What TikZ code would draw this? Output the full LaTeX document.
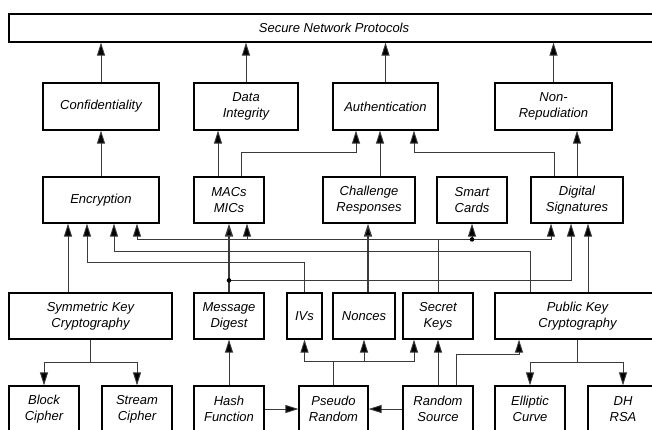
\documentclass[tikz,border=0pt]{standalone}
\usepackage{fontspec}
\setmainfont{Liberation Sans}
\usetikzlibrary{arrows.meta, calc}
\definecolor{lnkgray}{HTML}{3A3A3A}

\begin{document}
\begin{tikzpicture}[x=1pt, y=-1pt,
  unit/.style={draw=black, line width=1.2pt, fill=white, inner sep=0pt, align=center,
    font=\fontsize{13}{16}\selectfont\itshape},
  link/.style={draw=lnkgray, line width=0.9pt, -{Triangle[length=13pt, width=8pt, fill=black]}},
  plain/.style={draw=lnkgray, line width=0.9pt},
  heavy/.style={link, line width=1.4pt},
  joint/.style={fill=black}]

% Background
\useasboundingbox (0,0) rectangle (652,429);
\fill[white] (0,0) rectangle (652,429);

% Top: protocols
\node[unit, minimum width=650pt, minimum height=28pt] (snp) at (334,28) {Secure Network Protocols};

% Services
\node[unit, minimum width=116pt, minimum height=47pt] (conf) at (101,106.5) {Confidentiality};
\node[unit, minimum width=104pt, minimum height=47pt] (dint) at (246,106.5) {Data\\Integrity};
\node[unit, minimum width=105pt, minimum height=47pt] (auth) at (385.5,106.5) {Authentication};
\node[unit, minimum width=117pt, minimum height=47pt] (nrep) at (553.5,106.5) {Non-\\Repudiation};

% Mechanisms
\node[unit, minimum width=116pt, minimum height=46pt] (enc) at (101,200) {Encryption};
\node[unit, minimum width=70pt, minimum height=46pt] (mac) at (229,200) {MACs\\MICs};
\node[unit, minimum width=92pt, minimum height=46pt] (chal) at (369,200) {Challenge\\Responses};
\node[unit, minimum width=70pt, minimum height=46pt] (smart) at (472,200) {Smart\\Cards};
\node[unit, minimum width=92pt, minimum height=46pt] (dsig) at (577,200) {Digital\\Signatures};

% Building blocks
\node[unit, minimum width=163pt, minimum height=46pt] (sym) at (90.5,316) {Symmetric Key\\Cryptography};
\node[unit, minimum width=70pt, minimum height=46pt] (mdig) at (229,316) {Message\\Digest};
\node[unit, minimum width=35pt, minimum height=46pt] (ivs) at (304.5,316) {IVs};
\node[unit, minimum width=62pt, minimum height=46pt] (non) at (364,316) {Nonces};
\node[unit, minimum width=70pt, minimum height=46pt] (skey) at (438,316) {Secret\\Keys};
\node[unit, minimum width=165pt, minimum height=46pt] (pkc) at (577.5,316) {Public Key\\Cryptography};

% Primitives
\node[unit, minimum width=70pt, minimum height=46pt] (blk) at (44,409) {Block\\Cipher};
\node[unit, minimum width=70pt, minimum height=46pt] (strm) at (137,409) {Stream\\Cipher};
\node[unit, minimum width=70pt, minimum height=46pt] (hash) at (229,409) {Hash\\Function};
\node[unit, minimum width=69pt, minimum height=46pt] (prnd) at (333.5,409) {Pseudo\\Random};
\node[unit, minimum width=70pt, minimum height=46pt] (rsrc) at (438,409) {Random\\Source};
\node[unit, minimum width=70pt, minimum height=46pt] (ell) at (530,409) {Elliptic\\Curve};
\node[unit, minimum width=70pt, minimum height=46pt] (dh) at (623,409) {DH\\RSA};

% Services -> protocols
\draw[link] (conf.north) -- (conf.north |- snp.south);
\draw[link] (dint.north) -- (dint.north |- snp.south);
\draw[link] (auth.north) -- (auth.north |- snp.south);
\draw[link] (nrep.north) -- (nrep.north |- snp.south);

% Mechanisms -> services
\draw[link] (enc.north) -- (conf.south);
\draw[link] ([xshift=-11pt]mac.north) -- ([xshift=-11pt]mac.north |- dint.south);
\draw[link] ([xshift=12pt]mac.north) -- ++(0,-24) -| ([xshift=-29.5pt]auth.south);
\draw[link] ([xshift=11pt]chal.north) -- ([xshift=11pt]chal.north |- auth.south);
\draw[link] ([xshift=-23pt]dsig.north) -- ++(0,-24) -| ([xshift=28.5pt]auth.south);
\draw[link] (dsig.north) -- (dsig.north |- nrep.south);

% Building blocks -> mechanisms
\draw[link] ([xshift=-22.5pt]sym.north) -- ([xshift=-22.5pt]sym.north |- enc.south);
\draw[link] (ivs.north) -- ++(0,-30) -| ([xshift=-14pt]enc.south);
\draw[link] ([xshift=-47.5pt]pkc.north) -- ++(0,-41) -| ([xshift=13pt]enc.south);
\draw[plain] (skey.north) -- ++(0,-53) coordinate (skj);
\draw[link] (skj) -| ([xshift=36pt]enc.south);
\draw[link] (skj) -| ([xshift=18pt]mac.south);
\draw[link] (skj) -| ([xshift=-26pt]dsig.south);
\draw[link] (smart.south |- skj) -- (smart.south);
\fill[joint] (smart.south |- skj) circle (2.3pt);
\draw[heavy] (mdig.north) -- (mac.south);
\coordinate (mdj) at ($(mdig.north)+(0,-12)$);
\draw[link] (mdj) -| ([xshift=-6pt]dsig.south);
\fill[joint] (mdj) circle (2.3pt);
\draw[heavy] ([xshift=4pt]non.north) -- ([xshift=4pt]non.north |- chal.south);
\draw[link] ([xshift=10.5pt]pkc.north) -- ([xshift=10.5pt]pkc.north |- dsig.south);

% Primitives -> building blocks
\draw[plain] (sym.south) -- ++(0,23) coordinate (symj);
\draw[link] (symj) -| (blk.north);
\draw[link] (symj) -| (strm.north);
\draw[plain] (pkc.south) -- ++(0,23) coordinate (pkcj);
\draw[link] (pkcj) -| (ell.north);
\draw[link] (pkcj) -| (dh.north);
\draw[link] (hash.north) -- (mdig.south);
\draw[link] (hash.east) -- (prnd.west);
\draw[link] (rsrc.west) -- (prnd.east);
\draw[plain] (prnd.north) -- ++(0,-24) coordinate (prj);
\draw[link] (prj) -| (ivs.south);
\draw[link] (prj) -| (non.south);
\draw[link] (prj) -| ([xshift=-24pt]skey.south);
\draw[link] (rsrc.north) -- (skey.south);
\draw[link] ([xshift=18pt]rsrc.north) -- ++(0,-31) -| ([xshift=-58.5pt]pkc.south);

\end{tikzpicture}
\end{document}
